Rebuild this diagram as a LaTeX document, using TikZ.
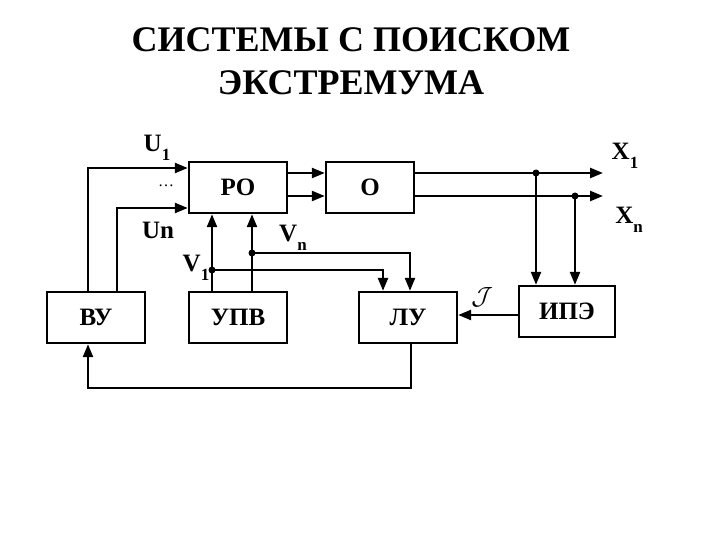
\documentclass[tikz,border=0pt]{standalone}
\usepackage{fontspec}
\setmainfont{Liberation Serif}
\usetikzlibrary{arrows.meta,positioning}
\tikzset{font=\bfseries\fontsize{25}{27}\selectfont}
\tikzset{blok/.style={draw,line width=2.4pt,minimum width=98pt,minimum height=51pt,inner sep=0pt}}
\tikzset{pil/.style={line width=2.4pt,-{Triangle[length=13pt,width=10pt]}}}
\newcommand{\lowidx}[1]{\raisebox{-9pt}{\fontsize{17}{18}\selectfont #1}}

\begin{document}
\begin{tikzpicture}[x=1pt,y=-1pt]
  \useasboundingbox (0,0) rectangle (720,540);
  \node[font=\bfseries\fontsize{36}{43}\selectfont,align=center] (titel) at (351,61)
    {СИСТЕМЫ С ПОИСКОМ\\ЭКСТРЕМУМА};
  \node[blok] (ro) at (238,187.5) {РО};
  \node[blok,minimum width=88pt] (o) at (370,187.5) {О};
  \node[blok] (vu) at (96,317.5) {ВУ};
  \node[blok] (upv) at (238,317.5) {УПВ};
  \node[blok] (lu) at (408,317.5) {ЛУ};
  \node[blok,minimum width=96pt] (ipe) at (567,311.5) {ИПЭ};
  % inputs of RO
  \draw[pil] ([xshift=-8pt]vu.north) |- ([yshift=19.5pt]ro.west);
  \draw[pil] ([xshift=21pt]vu.north) |- ([yshift=-20.5pt]ro.west);
  \node (u1) at (157,148) {U\lowidx{1}};
  \node (dots) at (166,186) {\normalfont\fontsize{16}{16}\selectfont \dots};
  \node (un) at (158,230) {Un};
  % RO to O and outputs
  \foreach \s in {14.5,-8.5}{
    \draw[pil] ([yshift=\s pt]ro.east) -- ([yshift=\s pt]o.west);
  };
  \coordinate (x1) at (603,173);
  \coordinate (xn) at (603,196);
  \coordinate (d1) at (536,173);
  \coordinate (d2) at (575,196);
  \draw[pil] ([yshift=14.5pt]o.east) -- (x1);
  \draw[pil] ([yshift=-8.5pt]o.east) -- (xn);
  \node (lx1) at (625,156) {X\lowidx{1}};
  \node (lxn) at (629,220) {X\lowidx{n}};
  \draw[pil] (d1) -- (d1 |- ipe.north);
  \draw[pil] (d2) -- (d2 |- ipe.north);
  \fill (d1) circle (3.5pt) (d2) circle (3.5pt);
  % UPV outputs
  \draw[pil] ([xshift=-26pt]upv.north) -- ([xshift=-26pt]ro.south);
  \draw[pil] ([xshift=14pt]upv.north) -- ([xshift=14pt]ro.south);
  \coordinate (v1) at (212,270);
  \coordinate (vn) at (252,253);
  \draw[pil] (v1) -| ([xshift=-25pt]lu.north);
  \draw[pil] (vn) -| ([xshift=2pt]lu.north);
  \fill (v1) circle (3.5pt) (vn) circle (3.5pt);
  \node (lv1) at (196,268) {V\lowidx{1}};
  \node (lvn) at (293,238) {V\lowidx{n}};
  % criterion and feedback
  \draw[pil] ([yshift=-3.5pt]ipe.west) -- ([yshift=2.5pt]lu.east);
  \node[font=\fontsize{28}{28}\selectfont] (crit) at (482,297) {$\mathcal{J}$};
  \coordinate (unten) at (411,388);
  \draw[pil] ([xshift=3pt]lu.south) -- (unten) -| ([xshift=-8pt]vu.south);
\end{tikzpicture}
\end{document}
